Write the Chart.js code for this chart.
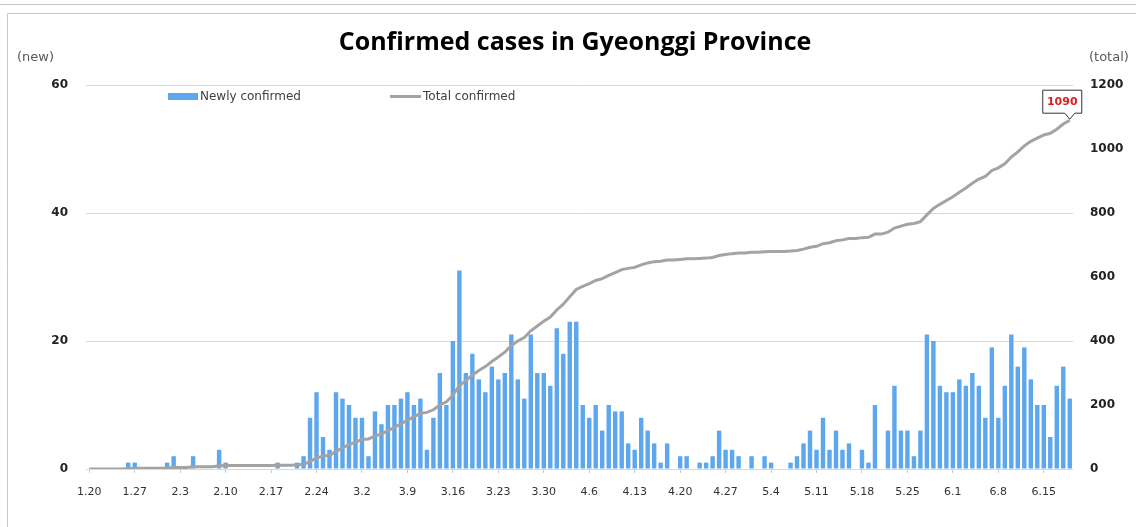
<!DOCTYPE html>
<html><head><meta charset="utf-8">
<script src="https://cdn.jsdelivr.net/npm/chart.js@4.4.1/dist/chart.umd.min.js"></script>
<style>html,body{margin:0;padding:0;background:#fff}canvas{display:block}</style>
</head><body>
<canvas id="c" width="1136" height="527"></canvas>
<script>
const categories = [
 '1.20','1.21','1.22','1.23','1.24','1.25','1.26','1.27','1.28','1.29','1.30','1.31',
 '2.1','2.2','2.3','2.4','2.5','2.6','2.7','2.8','2.9','2.10','2.11','2.12','2.13','2.14','2.15','2.16','2.17','2.18','2.19','2.20','2.21','2.22','2.23','2.24','2.25','2.26','2.27','2.28','2.29',
 '3.1','3.2','3.3','3.4','3.5','3.6','3.7','3.8','3.9','3.10','3.11','3.12','3.13','3.14','3.15','3.16','3.17','3.18','3.19','3.20','3.21','3.22','3.23','3.24','3.25','3.26','3.27','3.28','3.29','3.30','3.31',
 '4.1','4.2','4.3','4.4','4.5','4.6','4.7','4.8','4.9','4.10','4.11','4.12','4.13','4.14','4.15','4.16','4.17','4.18','4.19','4.20','4.21','4.22','4.23','4.24','4.25','4.26','4.27','4.28','4.29','4.30',
 '5.1','5.2','5.3','5.4','5.5','5.6','5.7','5.8','5.9','5.10','5.11','5.12','5.13','5.14','5.15','5.16','5.17','5.18','5.19','5.20','5.21','5.22','5.23','5.24','5.25','5.26','5.27','5.28','5.29','5.30','5.31',
 '6.1','6.2','6.3','6.4','6.5','6.6','6.7','6.8','6.9','6.10','6.11','6.12','6.13','6.14','6.15','6.16','6.17','6.18','6.19'
];
const tickLabels = ['1.20','1.27','2.3','2.10','2.17','2.24','3.2','3.9','3.16','3.23','3.30','4.6','4.13','4.20','4.27','5.4','5.11','5.18','5.25','6.1','6.8','6.15'];
const newlyConfirmed = [
 0,0,0,0,0,0,1,1,0,0,0,0,
 1,2,0,0,2,0,0,0,3,1, 0,0,0,0,0,0,0,1,0,0, 1,2,8,12,5,3,12,11,10,
 8,8,2,9,7,10,10,11,12,10, 11,3,8,15,10,20,31,15,18,14, 12,16,14,15,21,14,11,21,15,15, 13,
 22,18,23,23,10,8,10,6,10,9, 9,4,3,8,6,4,1,4,0,2, 2,0,1,1,2,6,3,3,2,0,
 2,0,2,1,0,0,1,2,4,6, 3,8,3,6,3,4,0,3,1,10, 0,6,13,6,6,2,6,21,20,13, 12,
 12,14,13,15,13,8,19,8,13,21, 16,19,14,10,10,5,13,16,11
];
const totalConfirmed = [
 0,0,0,0,0,0,1,2,2,2,2,2,
 3,5,5,5,7,7,7,7,10,11, 11,11,11,11,11,11,11,12,12,12, 13,15,23,35,40,43,55,66,76,
 84,92,94,103,110,120,130,141,153,163, 174,177,185,200,210,230,261,276,294,308, 320,336,350,365,386,400,411,432,447,462, 475,
 497,515,538,561,571,579,589,595,605,614, 623,627,630,638,644,648,649,653,653,655, 657,657,658,659,661,667,670,673,675,675,
 677,677,679,680,680,680,681,683,687,693, 696,704,707,713,716,720,720,723,724,734, 734,740,753,759,765,767,773,794,814,827, 839,
 851,865,878,893,906,914,933,941,954,975, 991,1010,1024,1034,1044,1049,1062,1078,1090
];
const leftTicks = [0, 20, 40, 60];
const rightTicks = [0, 200, 400, 600, 800, 1000, 1200];
const titleText = 'Confirmed cases in Gyeonggi Province';
const seriesNames = ['Newly confirmed', 'Total confirmed'];
const calloutText = '1090';

const BAR = '#5DA7EE', LINE = '#A3A3A3';

const decor = {
  id: 'decor',
  beforeDraw(chart) {
    const ctx = chart.ctx;
    ctx.save();
    ctx.fillStyle = '#fff';
    ctx.fillRect(0, 0, chart.width, chart.height);
    ctx.strokeStyle = '#C8C8C8';
    ctx.lineWidth = 1;
    ctx.beginPath();
    ctx.moveTo(0, 4.5); ctx.lineTo(chart.width, 4.5);
    ctx.moveTo(7.5, chart.height); ctx.lineTo(7.5, 13.5); ctx.lineTo(chart.width, 13.5);
    ctx.stroke();
    ctx.restore();
  },
  afterDraw(chart) {
    const ctx = chart.ctx;
    ctx.save();
    // title
    ctx.fillStyle = '#000';
    ctx.font = 'bold 25px "Open Sans"';
    ctx.textAlign = 'center';
    ctx.textBaseline = 'middle';
    ctx.fillText(titleText, 575, 43);
    // axis unit labels
    ctx.font = '13px "DejaVu Sans"';
    ctx.fillStyle = '#595959';
    ctx.textAlign = 'left';
    ctx.fillText('(new)', 17, 58);
    ctx.fillText('(total)', 1089, 58);
    // legend
    ctx.fillStyle = BAR;
    ctx.fillRect(168, 93, 30, 7);
    ctx.strokeStyle = LINE; ctx.lineWidth = 3;
    ctx.beginPath(); ctx.moveTo(390, 96.5); ctx.lineTo(421, 96.5); ctx.stroke();
    ctx.fillStyle = '#404040';
    ctx.font = '12px "DejaVu Sans"';
    ctx.textBaseline = 'middle';
    ctx.fillText(seriesNames[0], 200, 97);
    ctx.fillText(seriesNames[1], 423, 97);
    // callout
    const meta = chart.getDatasetMeta(1);
    const p = meta.data[meta.data.length - 1];
    const tx = p.x, ty = p.y - 1;
    const L = tx - 27, R = tx + 12, T = ty - 29, B = ty - 6;
    ctx.beginPath();
    ctx.moveTo(L, T); ctx.lineTo(R, T); ctx.lineTo(R, B);
    ctx.lineTo(tx + 5, B); ctx.lineTo(tx, ty); ctx.lineTo(tx - 5, B);
    ctx.lineTo(L, B); ctx.closePath();
    ctx.fillStyle = '#fff'; ctx.fill();
    ctx.strokeStyle = '#333'; ctx.lineWidth = 1; ctx.stroke();
    ctx.fillStyle = '#E02020';
    ctx.font = 'bold 11px "DejaVu Sans"';
    ctx.textAlign = 'center';
    ctx.fillText(calloutText, (L + R) / 2, (T + B) / 2 + 0.5);
    ctx.restore();
  }
};

new Chart(document.getElementById('c'), {
  data: {
    labels: categories,
    datasets: [
      { type: 'bar', label: seriesNames[0], data: newlyConfirmed, yAxisID: 'y', backgroundColor: BAR,
        barPercentage: 0.68, categoryPercentage: 1.0, order: 2 },
      { type: 'line', label: seriesNames[1], data: totalConfirmed, yAxisID: 'y1', borderColor: LINE,
        borderWidth: 3, pointRadius: 0, tension: 0, fill: false, order: 1 }
    ]
  },
  options: {
    responsive: false,
    animation: false,
    devicePixelRatio: 1,
    layout: { padding: { top: 85, left: 0, right: 0, bottom: 0 } },
    plugins: { legend: { display: false }, tooltip: { enabled: false }, title: { display: false } },
    scales: {
      x: {
        type: 'category',
        offset: true,
        grid: { display: true, drawOnChartArea: false, offset: false, tickLength: 4,
          color: (c) => (c.tick && tickLabels.includes(categories[c.index])) ? '#C8C8C8' : 'rgba(0,0,0,0)' },
        border: { display: false },
        ticks: { autoSkip: false, maxRotation: 0, minRotation: 0, padding: 13,
          font: { family: 'DejaVu Sans', size: 11 }, color: '#333',
          callback: function(v, i) { const l = categories[i]; return tickLabels.includes(l) ? l : ''; } },
        afterFit: (s) => { s.height = 58; }
      },
      y: {
        position: 'left', min: 0, max: 60,
        afterBuildTicks: (s) => { s.ticks = leftTicks.map(v => ({ value: v })); },
        grid: { color: '#D9D9D9', drawTicks: false },
        border: { display: false },
        ticks: { padding: 18, font: { family: 'DejaVu Sans', size: 12, weight: 'bold' }, color: '#222',
          callback: (v) => String(v) },
        afterFit: (s) => { s.width = 86; }
      },
      y1: {
        position: 'right', min: 0, max: 1200,
        afterBuildTicks: (s) => { s.ticks = rightTicks.map(v => ({ value: v })); },
        grid: { drawOnChartArea: false, drawTicks: false },
        border: { display: false },
        ticks: { padding: 17, font: { family: 'DejaVu Sans', size: 12, weight: 'bold' }, color: '#222',
          callback: (v) => String(v) },
        afterFit: (s) => { s.width = 63; }
      }
    }
  },
  plugins: [decor]
});
</script>
</body></html>
